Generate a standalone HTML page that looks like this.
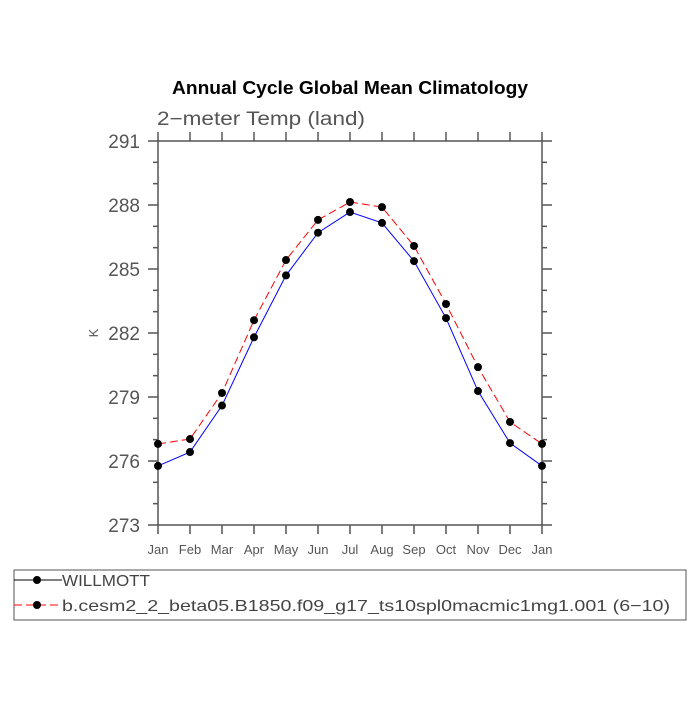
<!DOCTYPE html>
<html><head><meta charset="utf-8"><style>
body{margin:0;background:#fff;}
svg{font-family:"Liberation Sans",sans-serif;}
</style></head><body>
<svg id="c" width="700" height="700">
<text x="350" y="94" text-anchor="middle" font-size="18" font-weight="bold" textLength="356" lengthAdjust="spacingAndGlyphs">Annual Cycle Global Mean Climatology</text>
<text x="157" y="125" font-size="19" fill="#555" textLength="208" lengthAdjust="spacingAndGlyphs">2−meter Temp (land)</text>
<text x="0" y="0" transform="translate(98,333) rotate(-90)" text-anchor="middle" font-size="13" fill="#555">K</text>
<g id="axes"></g><g id="series"></g>
<rect x="14" y="570" width="672" height="50" fill="none" stroke="#555" stroke-width="1"/>
<g>
<line x1="14" y1="580" x2="62" y2="580" stroke="#000" stroke-width="1"/><circle cx="37" cy="580" r="4"/>
<text x="62" y="586" font-size="16" fill="#444" textLength="88" lengthAdjust="spacingAndGlyphs">WILLMOTT</text></g>
<g>
<line x1="14" y1="605" x2="62" y2="605" stroke="#f00" stroke-width="1" stroke-dasharray="8,4"/><circle cx="37" cy="605" r="4"/>
<text x="62" y="611" font-size="16" fill="#444" textLength="608" lengthAdjust="spacingAndGlyphs">b.cesm2_2_beta05.B1850.f09_g17_ts10spl0macmic1mg1.001 (6−10)</text></g>
</svg>
<script>
const months=["Jan","Feb","Mar","Apr","May","Jun","Jul","Aug","Sep","Oct","Nov","Dec","Jan"];
const willmott=[275.77,276.42,278.6,281.8,284.7,286.7,287.67,287.16,285.37,282.7,279.28,276.84,275.77];
const cesm=[276.8,277.03,279.19,282.6,285.42,287.3,288.14,287.9,286.08,283.36,280.4,277.83,276.8];
const yTicks=[273,276,279,282,285,288,291];
const NS="http://www.w3.org/2000/svg";
const L=158,R=542,T=141,B=525,ymin=273,ymax=291;
const xs=i=>L+(R-L)*i/(months.length-1);
const ys=v=>B-(v-ymin)/(ymax-ymin)*(B-T);
function mk(t,a,p){const e=document.createElementNS(NS,t);for(const k in a)e.setAttribute(k,a[k]);p.appendChild(e);return e;}
const ax=document.getElementById('axes');
const frame=mk('rect',{x:L,y:T,width:R-L,height:B-T,fill:'none',stroke:'#555','stroke-width':1.5},ax);


months.forEach((m,i)=>{
  const x=xs(i);
  mk('line',{x1:x,y1:B,x2:x,y2:B+9,stroke:'#555','stroke-width':1.5},ax);
  mk('line',{x1:x,y1:T,x2:x,y2:T-9,stroke:'#555','stroke-width':1.5},ax);
  const t=mk('text',{x:x,y:554,'text-anchor':'middle','font-size':13,fill:'#555'},ax);
  t.textContent=m;
  
  
});
for(let v=ymin;v<=ymax;v++){
  const y=ys(v),maj=yTicks.includes(v),len=maj?10:5;
  mk('line',{x1:L,y1:y,x2:L-len,y2:y,stroke:'#555','stroke-width':1.5},ax);
  mk('line',{x1:R,y1:y,x2:R+len,y2:y,stroke:'#555','stroke-width':1.5},ax);
}
yTicks.forEach(v=>{
  const t=mk('text',{x:140,y:ys(v)+7,'text-anchor':'end','font-size':19,fill:'#555'},ax);
  t.textContent=v;
  
  
});
const sg=document.getElementById('series');
function draw(vals,color,dash,name){
  const g=mk('g',{},sg);
  
  
  const pts=vals.map((v,i)=>xs(i)+','+ys(v)).join(' ');
  const a={points:pts,fill:'none',stroke:color,'stroke-width':1};
  if(dash)a['stroke-dasharray']=dash;
  mk('polyline',a,g);
  vals.forEach((v,i)=>{
    const c=mk('circle',{cx:xs(i),cy:ys(v),r:4,fill:'#000'},g);
    
    
  });
}
draw(willmott,'#00f',null,'series-willmott');
draw(cesm,'#f00','8,4','series-cesm');
</script>
</body></html>
